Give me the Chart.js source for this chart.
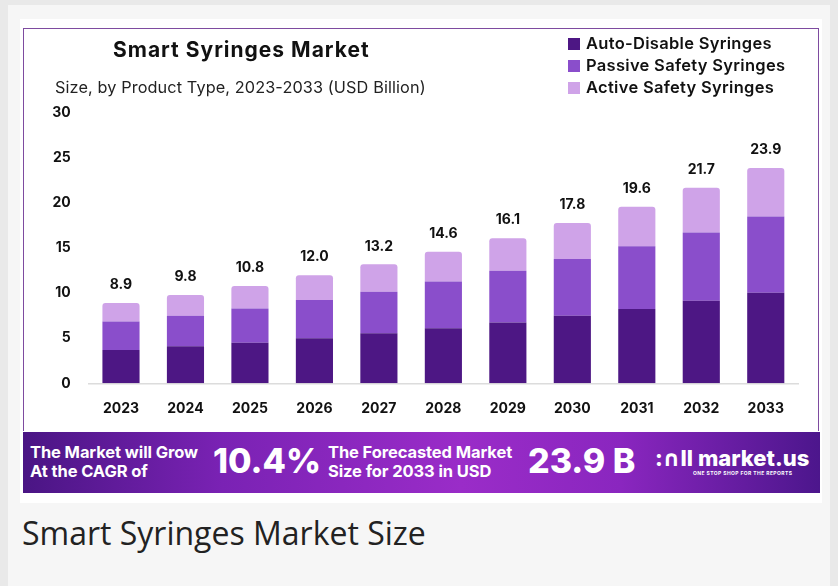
<!DOCTYPE html>
<html>
<head>
<meta charset="utf-8">
<script src="https://cdn.jsdelivr.net/npm/chart.js@4.4.1/dist/chart.umd.min.js"></script>
<style>
  html, body { margin: 0; padding: 0; }
  body { width: 838px; height: 586px; background: #e9e9e9; position: relative; overflow: hidden; font-family: Inter, "DejaVu Sans", sans-serif; }
  #panel { position: absolute; left: 8px; top: 5px; width: 822px; height: 590px; background: #f6f6f6; }
  #card { position: absolute; left: 20px; top: 19px; width: 802px; height: 484px; background: #fff; }
  #frame { position: absolute; left: 23px; top: 28px; width: 794px; height: 402px; border: 1.5px solid #7e4ba0; border-bottom: none; }
  #wrap { position: absolute; left: 23px; top: 28px; width: 796px; height: 404px; }
  #title { position: absolute; left: 113px; top: 37px; font-size: 21px; font-weight: 700; letter-spacing: 1px; color: #111; }
  #subtitle { position: absolute; left: 55px; top: 77px; font-size: 16.3px; letter-spacing: 0.1px; color: #222; }
  #legend { position: absolute; left: 568px; top: 32px; }
  #legend div { height: 22px; line-height: 22px; font-size: 16.5px; font-weight: 600; letter-spacing: 0.3px; color: #111; white-space: nowrap; }
  #legend span { display: inline-block; width: 12px; height: 12px; margin-right: 6px; vertical-align: -1px; }
  #banner { position: absolute; left: 23px; top: 432px; width: 797px; height: 61px;
    background: linear-gradient(90deg, #4a1584 0%, #7a22b4 25%, #9a2cc8 55%, #8a26bf 75%, #4c168c 100%); color: #fff; }
  .small { position: absolute; top: 11px; font-size: 16.5px; font-weight: 700; line-height: 19px; letter-spacing: -0.1px; }
  .big { position: absolute; top: 9px; font-size: 34px; font-weight: 800; line-height: 40px; }
  #logo { position: absolute; left: 632px; top: 14px; }
  #logo .name { font-size: 22px; font-weight: 800; line-height: 24px; }
  #logo .tag { font-size: 5px; font-weight: 700; letter-spacing: 0.4px; margin-left: 38px; }
  #caption { position: absolute; left: 22px; top: 511px; font-family: "Open Sans", sans-serif; font-size: 32px; color: #222; }
</style>
</head>
<body>
<div id="panel"></div>
<div id="card"></div>
<div id="frame"></div>
<div id="wrap"><canvas id="chart"></canvas></div>
<div id="title">Smart Syringes Market</div>
<div id="subtitle">Size, by Product Type, 2023-2033 (USD Billion)</div>
<div id="legend"></div>
<div id="banner">
  <div class="small" style="left:7px">The Market will Grow<br>At the CAGR of</div>
  <div class="big" style="left:190px">10.4%</div>
  <div class="small" style="left:305px">The Forecasted Market<br>Size for 2033 in USD</div>
  <div class="big" style="left:505px">23.9 B</div>
  <div id="logo"><div class="name">:∩ll market.us</div><div class="tag">ONE STOP SHOP FOR THE REPORTS</div></div>
</div>
<div id="caption">Smart Syringes Market Size</div>
<script>
"use strict";

// years on the x axis
const years = ["2023", "2024", "2025", "2026", "2027", "2028", "2029", "2030", "2031", "2032", "2033"];

// segment values (USD billion)
const autoDisable = [3.7, 4.1, 4.5, 5.0, 5.55, 6.1, 6.75, 7.5, 8.25, 9.15, 10.05];
const passiveSafety = [3.15, 3.4, 3.8, 4.25, 4.6, 5.2, 5.75, 6.3, 6.95, 7.6, 8.45];
const activeSafety = [2.05, 2.3, 2.5, 2.75, 3.05, 3.3, 3.6, 4.0, 4.4, 4.95, 5.4];

// totals printed above the bars
const totals = [8.9, 9.8, 10.8, 12.0, 13.2, 14.6, 16.1, 17.8, 19.6, 21.7, 23.9];

const yTicks = [0, 5, 10, 15, 20, 25, 30];

const seriesNames = ["Auto-Disable Syringes", "Passive Safety Syringes", "Active Safety Syringes"];
const seriesColors = ["#4d1784", "#8a4ecb", "#cfa3e8"];

// draws the total above each stack
const totalLabels = {
    id: "totalLabels",
    afterDatasetsDraw(chart) {
        const ctx = chart.ctx;
        const xs = chart.scales.x, ys = chart.scales.y;
        ctx.save();
        ctx.font = "700 14px Inter, sans-serif";
        ctx.fillStyle = "#111";
        ctx.textAlign = "center";
        ctx.textBaseline = "middle";
        for (let i = 0; i < years.length; i++) {
            const top = autoDisable[i] + passiveSafety[i] + activeSafety[i];
            ctx.fillText(totals[i].toFixed(1), xs.getPixelForValue(i), ys.getPixelForValue(top) - 18);
        }
        ctx.restore();
    }
};

const data = {
    labels: years,
    datasets: [
        { label: seriesNames[0], data: autoDisable, backgroundColor: seriesColors[0] },
        { label: seriesNames[1], data: passiveSafety, backgroundColor: seriesColors[1] },
        { label: seriesNames[2], data: activeSafety, backgroundColor: seriesColors[2],
          borderRadius: { topLeft: 3, topRight: 3 }, borderSkipped: false }
    ]
};

const config = {
    type: "bar",
    data: data,
    options: {
        responsive: false,
        animation: false,
        devicePixelRatio: 1,
        layout: { padding: { top: 85, right: 21, bottom: 0, left: 0 } },
        datasets: { bar: { barPercentage: 0.72, categoryPercentage: 0.8 } },
        plugins: { legend: { display: false }, tooltip: { enabled: false } },
        scales: {
            x: {
                stacked: true,
                grid: { display: false },
                border: { display: true, color: "#dcdcdc", width: 1.5 },
                ticks: { color: "#111", font: { family: "Inter", size: 14, weight: "700" }, padding: 9 },
                afterFit(scale) { scale.height = 48.7; }
            },
            y: {
                stacked: true,
                min: 0,
                max: 30,
                grid: { display: false, drawTicks: false },
                border: { display: false },
                afterBuildTicks(scale) { scale.ticks = yTicks.map(v => ({ value: v })); },
                ticks: { color: "#111", font: { family: "Inter", size: 14, weight: "700" }, padding: 18 },
                afterFit(scale) { scale.width = 65.75; }
            }
        }
    },
    plugins: [totalLabels]
};

const canvas = document.getElementById("chart");
canvas.width = 796;
canvas.height = 404;
const myChart = new Chart(canvas, config);

// legend built from the chart's datasets
const legend = document.getElementById("legend");
myChart.data.datasets.forEach(ds => {
    const row = document.createElement("div");
    const box = document.createElement("span");
    box.style.background = ds.backgroundColor;
    row.append(box, ds.label);
    legend.append(row);
});
</script>
</body>
</html>
